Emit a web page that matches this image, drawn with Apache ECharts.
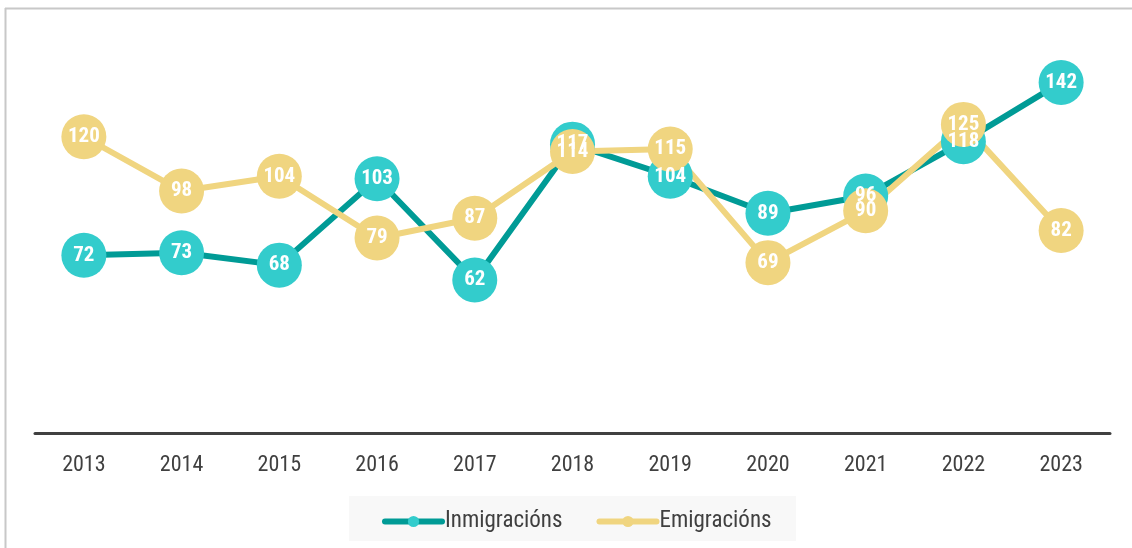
<!DOCTYPE html>
<html><head><meta charset="utf-8">
<script src="https://cdn.jsdelivr.net/npm/echarts@6/dist/echarts.min.js"></script>
<style>html,body{margin:0;padding:0;background:#fff}#c{width:1132px;height:548px}</style>
</head><body><div id="c"></div>
<script>
const years = ['2013','2014','2015','2016','2017','2018','2019','2020','2021','2022','2023'];
const inmigracions = [72, 73, 68, 103, 62, 117, 104, 89, 96, 118, 142];
const emigracions = [120, 98, 104, 79, 87, 114, 115, 69, 90, 125, 82];
const FONT = '"Roboto Condensed","Liberation Sans Narrow","Roboto",sans-serif';
const chart = echarts.init(document.getElementById('c'));
const lbl = {show:true, position:'inside', color:'#fff', fontWeight:'bold', fontSize:21, fontFamily:FONT};
chart.setOption({
  animation:false,
  grid:{left:35, right:22, top:38, bottom:115},
  graphic:[
    {type:'line', shape:{x1:5.5,y1:8,x2:5.5,y2:548}, style:{stroke:'#c8c8c8', lineWidth:2}},
    {type:'line', shape:{x1:5,y1:8.5,x2:1132,y2:8.5}, style:{stroke:'#c8c8c8', lineWidth:2}},
    {type:'rect', shape:{x:349,y:496,width:447,height:45}, style:{fill:'#f8f8f8'}, z:-1}
  ],
  legend:{
    left:377, top:505, itemWidth:57, itemHeight:14, itemGap:34,
    lineStyle:{width:6, cap:'round'},
    textStyle:{color:'#404040', fontSize:23, fontFamily:FONT, padding:[0,0,0,-2]},
    data:['Inmigracións','Emigracións']
  },
  xAxis:{type:'category', data:years, boundaryGap:true,
    axisLine:{lineStyle:{color:'#404040', width:3}}, axisTick:{show:false},
    axisLabel:{color:'#404040', fontSize:22, fontFamily:FONT, margin:21}},
  yAxis:{type:'value', min:0, max:160, show:false, splitLine:{show:false}},
  series:[
    {name:'Inmigracións', type:'line', data:inmigracions, symbol:'circle', symbolSize:45,
     lineStyle:{color:'#009b96', width:6}, itemStyle:{color:'#33cccc'}, label:lbl},
    {name:'Emigracións', type:'line', data:emigracions, symbol:'circle', symbolSize:45,
     lineStyle:{color:'#f0d580', width:6}, itemStyle:{color:'#f0d580'}, label:lbl}
  ]
});
</script></body></html>
